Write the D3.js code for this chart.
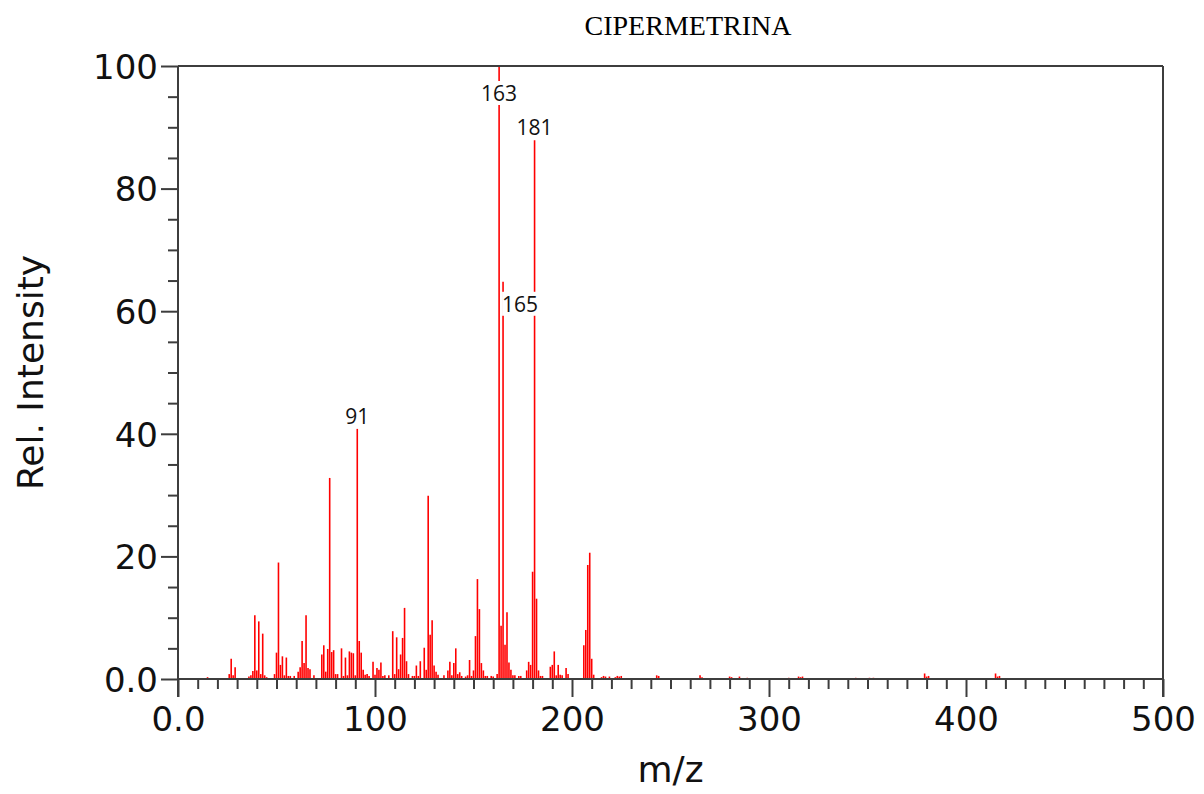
<!DOCTYPE html>
<html>
<head>
<meta charset="utf-8">
<script src="https://cdn.jsdelivr.net/npm/d3@7"></script>
<style>
  html, body { margin: 0; padding: 0; background: #fff; }
  svg { display: block; }
</style>
</head>
<body>
<svg id="chart" width="1204" height="794"></svg>
<script>
// Mass spectrum of cypermethrin: m/z values and relative intensities (%)
const mzValues = [
  15, 26, 27, 28, 29, 36, 37, 38, 39, 40, 41, 42, 43, 44, 45, 49, 50, 51, 52, 53,
  54, 55, 56, 57, 59, 61, 62, 63, 64, 65, 66, 67, 69, 73, 74, 75, 76, 77, 78, 79,
  80, 81, 83, 84, 85, 86, 87, 88, 89, 90, 91, 92, 93, 94, 95, 96, 97, 99, 100, 101,
  102, 103, 104, 105, 107, 109, 110, 111, 112, 113, 114, 115, 116, 117, 119, 120, 121, 122, 123, 125,
  126, 127, 128, 129, 130, 131, 132, 135, 137, 138, 139, 140, 141, 142, 143, 144, 146, 147, 148, 149,
  150, 151, 152, 153, 154, 155, 156, 157, 159, 160, 162, 163, 164, 165, 166, 167, 168, 169, 170, 171,
  173, 174, 177, 178, 179, 180, 181, 182, 183, 184, 185, 189, 190, 191, 192, 193, 194, 195, 197, 198,
  206, 207, 208, 209, 210, 211, 215, 216, 217, 219, 222, 223, 224, 225, 243, 244, 265, 266, 280, 281,
  285, 289, 310, 315, 316, 317, 344, 351, 353, 379, 380, 381, 415, 416, 417
];
const intensities = [
  0.3, 0.8, 3.3, 0.6, 1.9, 0.4, 0.6, 1.3, 10.4, 1.4, 9.4, 0.8, 7.4, 0.6, 0.3, 0.8, 4.3, 19.0, 2.3, 3.7,
  0.6, 3.5, 0.5, 0.5, 0.5, 1.2, 1.9, 6.2, 2.6, 10.4, 1.8, 1.6, 0.6, 4.0, 5.5, 1.2, 4.9, 32.8, 4.4, 4.7,
  0.8, 0.8, 5.0, 0.5, 3.5, 0.6, 4.5, 4.3, 4.2, 0.6, 40.8, 6.2, 4.3, 1.5, 0.7, 0.8, 0.5, 2.8, 0.7, 1.8,
  1.5, 2.7, 0.5, 0.6, 0.6, 7.8, 0.8, 6.8, 1.6, 4.0, 6.7, 11.6, 2.9, 0.8, 0.5, 0.5, 2.2, 0.5, 2.9, 5.1,
  1.5, 29.9, 7.2, 9.6, 2.2, 1.2, 0.7, 0.6, 1.4, 2.8, 0.6, 2.6, 5.0, 0.8, 1.1, 0.5, 0.4, 0.6, 3.1, 0.5,
  1.4, 7.0, 16.3, 11.4, 2.6, 1.4, 0.5, 0.5, 0.5, 0.4, 0.8, 100, 8.7, 64.8, 5.6, 10.9, 2.7, 1.5, 0.6, 0.6,
  0.5, 0.5, 1.4, 2.8, 2.3, 17.5, 87.9, 13.1, 1.4, 0.5, 0.5, 2.0, 2.3, 4.5, 0.6, 2.3, 0.7, 0.6, 1.8, 0.8,
  5.5, 8.0, 18.6, 20.6, 3.3, 0.7, 0.3, 0.5, 0.4, 0.4, 0.3, 0.5, 0.4, 0.5, 0.6, 0.5, 0.6, 0.3, 0.4, 0.3,
  0.4, 0.2, 0.2, 0.4, 0.3, 0.4, 0.2, 0.2, 0.2, 0.9, 0.4, 0.5, 0.9, 0.4, 0.5
];

// Peaks annotated with their m/z
const labelledPeaks = [91, 163, 165, 181];

// Axis ticks and their labels
const xMajorTicks = [0, 100, 200, 300, 400, 500];
const xTickLabels = ["0.0", "100", "200", "300", "400", "500"];
const yMajorTicks = [0, 20, 40, 60, 80, 100];
const yTickLabels = ["0.0", "20", "40", "60", "80", "100"];

const chartTitle = "CIPERMETRINA";
const xTitle = "m/z";
const yTitle = "Rel. Intensity";

const peaks = mzValues.map((m, i) => ({ mz: m, value: intensities[i] }));

const svg = d3.select("#chart");
const plot = { left: 178, right: 1163, top: 66, bottom: 679 };
const axisColor = "#3d3d3d";
const tickFont = "'DejaVu Sans', sans-serif";

const x = d3.scaleLinear().domain([0, 500]).range([plot.left, plot.right]);
const y = d3.scaleLinear().domain([0, 100]).range([plot.bottom, plot.top]);

// Title
svg.append("text")
  .attr("x", 688).attr("y", 35)
  .attr("text-anchor", "middle")
  .attr("font-family", "'Liberation Serif', 'Times New Roman', serif")
  .attr("font-size", 28)
  .attr("fill", "#000")
  .text(chartTitle);

// Spectrum lines
svg.append("g").selectAll("line")
  .data(peaks)
  .join("line")
  .attr("x1", d => x(d.mz)).attr("x2", d => x(d.mz))
  .attr("y1", y(0)).attr("y2", d => y(d.value))
  .attr("stroke", "#ff0000")
  .attr("stroke-width", 1.6);

// Axes: minor ticks
const xMinor = d3.range(0, 501, 10).filter(v => !xMajorTicks.includes(v));
const yMinor = d3.range(0, 101, 5).filter(v => !yMajorTicks.includes(v));

function styleAxis(g) {
  g.selectAll("line").attr("stroke", axisColor).attr("stroke-width", 2);
  g.select(".domain").remove();
}

svg.append("g")
  .attr("transform", `translate(0,${plot.bottom})`)
  .call(d3.axisBottom(x).tickValues(xMinor).tickSize(10).tickFormat(""))
  .call(styleAxis);

svg.append("g")
  .attr("transform", `translate(${plot.left},0)`)
  .call(d3.axisLeft(y).tickValues(yMinor).tickSize(10).tickFormat(""))
  .call(styleAxis);

// Axes: major ticks with labels
const xAxisG = svg.append("g")
  .attr("transform", `translate(0,${plot.bottom})`)
  .call(d3.axisBottom(x).tickValues(xMajorTicks).tickSize(18)
    .tickFormat((d, i) => xTickLabels[i]))
  .call(styleAxis);
xAxisG.selectAll("text")
  .attr("y", 52).attr("dy", 0)
  .attr("font-family", tickFont).attr("font-size", 34).attr("fill", "#111");

const yAxisG = svg.append("g")
  .attr("transform", `translate(${plot.left},0)`)
  .call(d3.axisLeft(y).tickValues(yMajorTicks).tickSize(17)
    .tickFormat((d, i) => yTickLabels[i]))
  .call(styleAxis);
yAxisG.selectAll("text")
  .attr("x", -20).attr("dy", "0.36em")
  .attr("font-family", tickFont).attr("font-size", 34).attr("fill", "#111");

// Frame around the plotting area
const frame = svg.append("g").attr("stroke", axisColor).attr("stroke-width", 2);
frame.append("line").attr("x1", plot.left).attr("x2", plot.right).attr("y1", plot.top).attr("y2", plot.top);
frame.append("line").attr("x1", plot.left).attr("x2", plot.right).attr("y1", plot.bottom).attr("y2", plot.bottom);
frame.append("line").attr("x1", plot.left).attr("x2", plot.left).attr("y1", plot.top).attr("y2", plot.bottom + 18);
frame.append("line").attr("x1", plot.right).attr("x2", plot.right).attr("y1", plot.top).attr("y2", plot.bottom + 18);

// Axis titles
svg.append("text")
  .attr("x", (plot.left + plot.right) / 2).attr("y", 782)
  .attr("text-anchor", "middle")
  .attr("font-family", tickFont).attr("font-size", 36).attr("fill", "#111")
  .text(xTitle);

svg.append("text")
  .attr("transform", `translate(43,${(plot.top + plot.bottom) / 2}) rotate(-90)`)
  .attr("text-anchor", "middle")
  .attr("font-family", tickFont).attr("font-size", 36).attr("fill", "#111")
  .text(yTitle);

// Peak annotations on white boxes
const labelG = svg.append("g");
labelledPeaks.forEach(mz => {
  const v = intensities[mzValues.indexOf(mz)];
  const px = x(mz);
  let anchor = "middle", tx = px, ty;
  const tallerNeighbour = labelledPeaks.some(o => o !== mz && Math.abs(o - mz) <= 3 &&
    intensities[mzValues.indexOf(o)] > v);
  if (v >= 99) {
    ty = y(v) + 35;            // peak reaches the frame: label sits inside the line
  } else if (tallerNeighbour) {
    anchor = "start"; tx = px - 1; ty = y(v) + 30;
  } else {
    ty = y(v) - 5;
  }
  const g = labelG.append("g");
  const t = g.append("text")
    .attr("x", tx).attr("y", ty)
    .attr("text-anchor", anchor)
    .attr("font-family", "'Open Sans', sans-serif")
    .attr("font-size", 21)
    .attr("fill", "#111")
    .text(mz);
  const bb = t.node().getBBox();
  g.insert("rect", "text")
    .attr("x", bb.x).attr("y", bb.y + 2)
    .attr("width", bb.width).attr("height", bb.height - 4)
    .attr("fill", "#fff");
});
</script>
</body>
</html>
